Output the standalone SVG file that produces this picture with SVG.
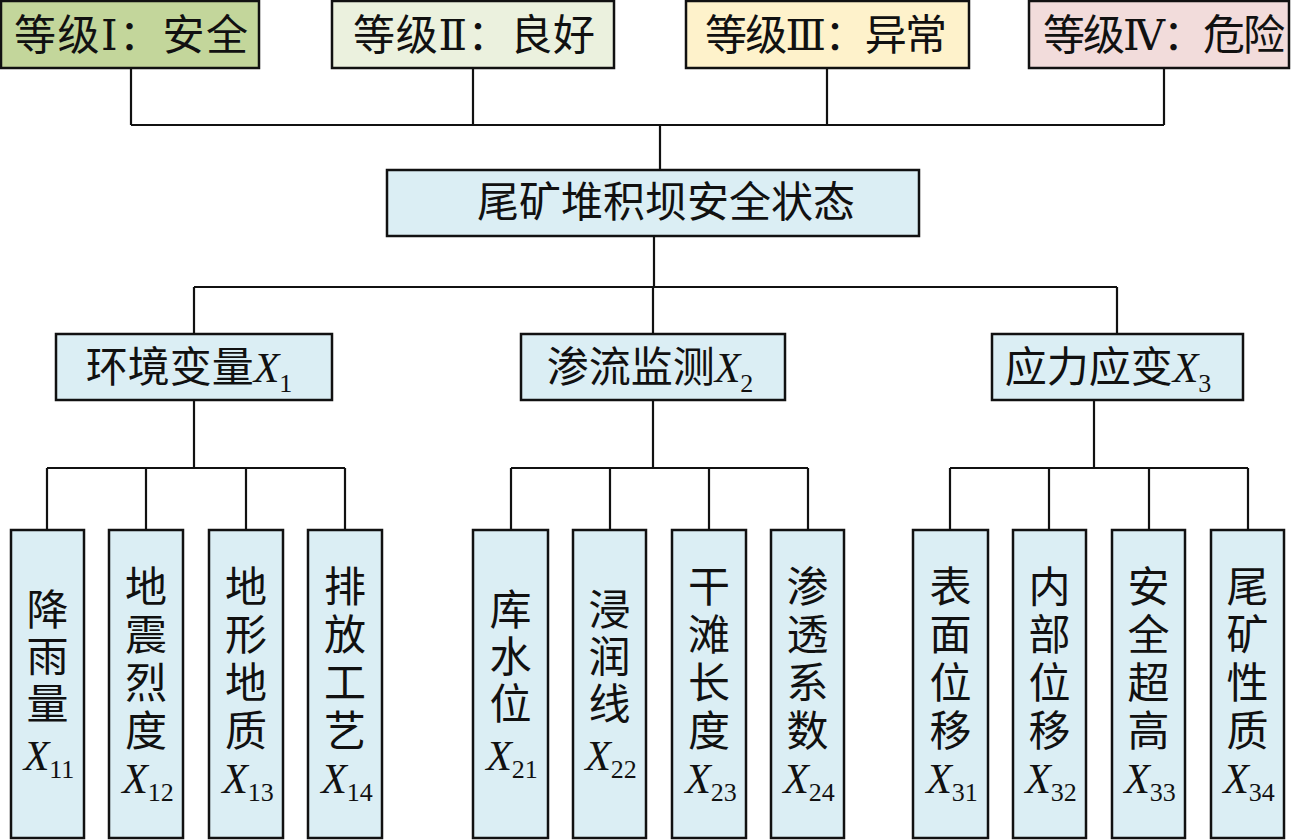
<svg xmlns="http://www.w3.org/2000/svg" width="1300" height="840" viewBox="0 0 1300 840">
<style>
  .box { stroke: #111; stroke-width: 2.5; }
  .blue { fill: #dbeef4; }
  .g1 { fill: #c3d69b; }
  .g2 { fill: #ebf1de; }
  .g3 { fill: #fef2cb; }
  .g4 { fill: #f2dcdb; }
  .t { font-family: "Liberation Serif", "Noto Sans CJK SC", serif; fill: #111; }
  .top { font-size: 42px; text-anchor: middle; }
  .main { font-size: 42px; text-anchor: middle; }
  .grp { font-size: 42px; text-anchor: middle; }
  .leaf { font-size: 42px; text-anchor: middle; }
  .it { font-style: italic; }
  .sub { font-size: 26px; }
  .rn { font-family: "DejaVu Serif", "Liberation Serif", serif; }
  .conn { fill: none; stroke: #111; stroke-width: 2.2; }
</style>

<g id="connectors" class="conn">
  <path d="M131 68V125M473 68V125M827 68V125M1164 68V125M131 125H1164M660 125V170"/>
  <path d="M654 236V287M194 287H1117M194 287V334M653 287V334M1117 287V334"/>
  <path d="M194 400V468M47 468H345M47 468V530M146 468V530M246 468V530M345 468V530"/>
  <path d="M653 400V468M511 468H808M511 468V530M610 468V530M709 468V530M808 468V530"/>
  <path d="M1094 400V468M950 468H1248M950 468V530M1049 468V530M1149 468V530M1248 468V530"/>
</g>

<g id="level1">
  <rect class="box g1" x="1" y="1" width="258" height="67"/>
  <text class="t top" x="131" y="50" textLength="234">等级<tspan class="rn">Ⅰ</tspan>：安全</text>
</g>
<g id="level2">
  <rect class="box g2" x="332" y="1" width="282" height="67"/>
  <text class="t top" x="474" y="50" textLength="242">等级<tspan class="rn">Ⅱ</tspan>：良好</text>
</g>
<g id="level3">
  <rect class="box g3" x="686" y="1" width="283" height="67"/>
  <text class="t top" x="826" y="50" textLength="242">等级<tspan class="rn">Ⅲ</tspan>：异常</text>
</g>
<g id="level4">
  <rect class="box g4" x="1029" y="1" width="260" height="67"/>
  <text class="t top" x="1164" y="50" textLength="242">等级<tspan class="rn">Ⅳ</tspan>：危险</text>
</g>

<g id="root">
  <rect class="box blue" x="387" y="170" width="532" height="66"/>
  <text class="t main" x="666" y="217">尾矿堆积坝安全状态</text>
</g>

<g id="X1">
  <rect class="box blue" x="56" y="334" width="276" height="66"/>
  <text class="t grp" x="189" y="382">环境变量<tspan class="it">X</tspan><tspan class="sub" dy="10">1</tspan></text>
</g>
<g id="X2">
  <rect class="box blue" x="521" y="334" width="264" height="66"/>
  <text class="t grp" x="650" y="382">渗流监测<tspan class="it">X</tspan><tspan class="sub" dy="10">2</tspan></text>
</g>
<g id="X3">
  <rect class="box blue" x="992" y="334" width="251" height="66"/>
  <text class="t grp" x="1108" y="382">应力应变<tspan class="it">X</tspan><tspan class="sub" dy="10">3</tspan></text>
</g>

<g id="X11">
  <rect class="box blue" x="11" y="530" width="73" height="308"/>
  <text class="t leaf"><tspan x="47.5" y="625">降</tspan><tspan x="47.5" y="672">雨</tspan><tspan x="47.5" y="719">量</tspan><tspan x="49" y="770" class="it">X</tspan><tspan class="sub" dy="8">11</tspan></text>
</g>
<g id="X12">
  <rect class="box blue" x="109" y="530" width="74" height="308"/>
  <text class="t leaf"><tspan x="146" y="602">地</tspan><tspan x="146" y="650">震</tspan><tspan x="146" y="698">烈</tspan><tspan x="146" y="746">度</tspan><tspan x="148" y="793" class="it">X</tspan><tspan class="sub" dy="8">12</tspan></text>
</g>
<g id="X13">
  <rect class="box blue" x="209" y="530" width="74" height="308"/>
  <text class="t leaf"><tspan x="246" y="602">地</tspan><tspan x="246" y="650">形</tspan><tspan x="246" y="698">地</tspan><tspan x="246" y="746">质</tspan><tspan x="248" y="793" class="it">X</tspan><tspan class="sub" dy="8">13</tspan></text>
</g>
<g id="X14">
  <rect class="box blue" x="308" y="530" width="74" height="308"/>
  <text class="t leaf"><tspan x="345" y="602">排</tspan><tspan x="345" y="650">放</tspan><tspan x="345" y="698">工</tspan><tspan x="345" y="746">艺</tspan><tspan x="347" y="793" class="it">X</tspan><tspan class="sub" dy="8">14</tspan></text>
</g>

<g id="X21">
  <rect class="box blue" x="473" y="530" width="75" height="308"/>
  <text class="t leaf"><tspan x="510.5" y="625">库</tspan><tspan x="510.5" y="672">水</tspan><tspan x="510.5" y="719">位</tspan><tspan x="512" y="770" class="it">X</tspan><tspan class="sub" dy="8">21</tspan></text>
</g>
<g id="X22">
  <rect class="box blue" x="573" y="530" width="73" height="308"/>
  <text class="t leaf"><tspan x="609.5" y="625">浸</tspan><tspan x="609.5" y="672">润</tspan><tspan x="609.5" y="719">线</tspan><tspan x="611" y="770" class="it">X</tspan><tspan class="sub" dy="8">22</tspan></text>
</g>
<g id="X23">
  <rect class="box blue" x="672" y="530" width="74" height="308"/>
  <text class="t leaf"><tspan x="709" y="602">干</tspan><tspan x="709" y="650">滩</tspan><tspan x="709" y="698">长</tspan><tspan x="709" y="746">度</tspan><tspan x="711" y="793" class="it">X</tspan><tspan class="sub" dy="8">23</tspan></text>
</g>
<g id="X24">
  <rect class="box blue" x="771" y="530" width="73" height="308"/>
  <text class="t leaf"><tspan x="807.5" y="602">渗</tspan><tspan x="807.5" y="650">透</tspan><tspan x="807.5" y="698">系</tspan><tspan x="807.5" y="746">数</tspan><tspan x="809" y="793" class="it">X</tspan><tspan class="sub" dy="8">24</tspan></text>
</g>

<g id="X31">
  <rect class="box blue" x="913" y="530" width="75" height="308"/>
  <text class="t leaf"><tspan x="950.5" y="602">表</tspan><tspan x="950.5" y="650">面</tspan><tspan x="950.5" y="698">位</tspan><tspan x="950.5" y="746">移</tspan><tspan x="952" y="793" class="it">X</tspan><tspan class="sub" dy="8">31</tspan></text>
</g>
<g id="X32">
  <rect class="box blue" x="1013" y="530" width="73" height="308"/>
  <text class="t leaf"><tspan x="1049.5" y="602">内</tspan><tspan x="1049.5" y="650">部</tspan><tspan x="1049.5" y="698">位</tspan><tspan x="1049.5" y="746">移</tspan><tspan x="1051" y="793" class="it">X</tspan><tspan class="sub" dy="8">32</tspan></text>
</g>
<g id="X33">
  <rect class="box blue" x="1112" y="530" width="73" height="308"/>
  <text class="t leaf"><tspan x="1148.5" y="602">安</tspan><tspan x="1148.5" y="650">全</tspan><tspan x="1148.5" y="698">超</tspan><tspan x="1148.5" y="746">高</tspan><tspan x="1150" y="793" class="it">X</tspan><tspan class="sub" dy="8">33</tspan></text>
</g>
<g id="X34">
  <rect class="box blue" x="1211" y="530" width="73" height="308"/>
  <text class="t leaf"><tspan x="1247.5" y="602">尾</tspan><tspan x="1247.5" y="650">矿</tspan><tspan x="1247.5" y="698">性</tspan><tspan x="1247.5" y="746">质</tspan><tspan x="1249" y="793" class="it">X</tspan><tspan class="sub" dy="8">34</tspan></text>
</g>
</svg>
